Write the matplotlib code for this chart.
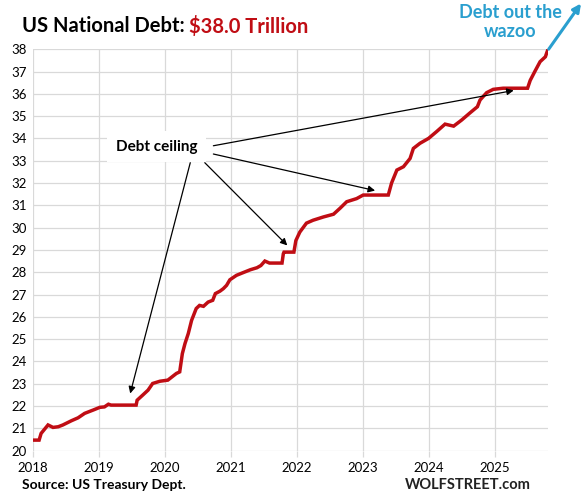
import numpy as np
import matplotlib
matplotlib.use("Agg")
import matplotlib.pyplot as plt

plt.rcParams['font.family'] = ['Lato', 'DejaVu Sans']

# US national debt, trillions of dollars
years = [2018.00, 2018.10, 2018.13, 2018.235, 2018.31, 2018.39, 2018.46, 2018.59, 2018.69,
         2018.79, 2018.92, 2019.02, 2019.09, 2019.15, 2019.19, 2019.57, 2019.585, 2019.67,
         2019.75, 2019.82, 2019.93, 2020.05, 2020.18, 2020.23, 2020.27, 2020.31, 2020.36,
         2020.41, 2020.48, 2020.53, 2020.59, 2020.66, 2020.73, 2020.77, 2020.84, 2020.89,
         2020.94, 2020.99, 2021.09, 2021.19, 2021.30, 2021.40, 2021.46, 2021.52, 2021.59,
         2021.78, 2021.80, 2021.81, 2021.96, 2021.99, 2022.05, 2022.15, 2022.25, 2022.41,
         2022.56, 2022.66, 2022.76, 2022.91, 2023.01, 2023.39, 2023.44, 2023.52, 2023.62,
         2023.72, 2023.77, 2023.87, 2024.00, 2024.12, 2024.25, 2024.38, 2024.50, 2024.63,
         2024.74, 2024.78, 2024.88, 2024.98, 2025.13, 2025.50, 2025.54, 2025.61, 2025.69,
         2025.77, 2025.81]
debt = [20.47, 20.47, 20.77, 21.15, 21.04, 21.07, 21.15, 21.34, 21.47,
        21.67, 21.82, 21.94, 21.96, 22.08, 22.04, 22.04, 22.26, 22.49,
        22.71, 23.01, 23.11, 23.16, 23.46, 23.53, 24.35, 24.80, 25.25,
        25.84, 26.37, 26.51, 26.47, 26.66, 26.74, 27.04, 27.15, 27.26,
        27.41, 27.66, 27.86, 27.98, 28.11, 28.20, 28.30, 28.50, 28.41,
        28.41, 28.83, 28.90, 28.90, 29.42, 29.80, 30.20, 30.33, 30.48,
        30.60, 30.87, 31.16, 31.30, 31.46, 31.46, 32.00, 32.58, 32.73,
        33.10, 33.55, 33.78, 34.00, 34.30, 34.64, 34.55, 34.82, 35.15,
        35.42, 35.72, 36.05, 36.20, 36.25, 36.25, 36.60, 37.00, 37.44,
        37.66, 38.00]

year_ticks = [2018, 2019, 2020, 2021, 2022, 2023, 2024, 2025]
value_ticks = list(range(20, 39))

# "Debt ceiling" arrows: (start, tip) in data units
ceiling_label = (2019.88, 33.62)
ceiling_arrows = [((2020.39, 32.91), (2019.48, 22.56)),
                  ((2020.61, 32.91), (2021.86, 29.20)),
                  ((2020.74, 33.30), (2023.19, 31.66)),
                  ((2020.74, 33.67), (2025.29, 36.15))]

red = '#c00d14'
blue = '#2a9fcf'

fig = plt.figure(figsize=(5.88, 5.0), dpi=100)
ax = fig.add_axes([0.0553, 0.0988, 0.8767, 0.8028])

ax.plot(years, debt, color=red, linewidth=2.5, solid_joinstyle='miter')

ax.set_xlim(2018, 2025.81)
ax.set_ylim(20, 38)
ax.set_xticks(year_ticks)
ax.set_yticks(value_ticks)
ax.grid(True, color='#d9d9d9', linewidth=0.9)
ax.set_axisbelow(True)
for s in ax.spines.values():
    s.set_visible(False)
ax.tick_params(axis='x', length=4, color='#d9d9d9', width=0.9, labelsize=9.5, pad=4)
ax.tick_params(axis='y', length=0, labelsize=9.5, pad=4)

# debt ceiling callout
ax.text(ceiling_label[0], ceiling_label[1], 'Debt ceiling', ha='center', va='center',
        fontsize=11, fontweight='bold', color='black',
        bbox=dict(facecolor='white', edgecolor='none', pad=6), zorder=3)
for start, tip in ceiling_arrows:
    ax.annotate('', xy=tip, xytext=start,
                arrowprops=dict(arrowstyle='-|>', color='black', lw=0.9,
                                mutation_scale=10, shrinkA=0, shrinkB=0), zorder=4)

# the blue arrow leaving the chart
ax.annotate('', xy=(2026.31, 40.05), xytext=(2025.82, 38.0), annotation_clip=False,
            arrowprops=dict(arrowstyle='-|>', color=blue, lw=2.2,
                            mutation_scale=12, shrinkA=0, shrinkB=0))
fig.text(0.868, 0.956, 'Debt out the\nwazoo', ha='center', va='center', color=blue,
         fontsize=13, fontweight='bold', linespacing=1.2)

# title
t1 = fig.text(0.037, 0.948, 'US National Debt: ', ha='left', va='center',
              fontsize=14.5, fontweight='bold', color='black')
fig.canvas.draw()
bb = t1.get_window_extent()
fig.text(bb.x1 / fig.bbox.width, 0.948, '$38.0 Trillion', ha='left', va='center',
         fontsize=14.5, fontweight='bold', color=red)

fig.text(0.037, 0.030, 'Source: US Treasury Dept.', ha='left', va='center',
         fontsize=10, fontweight='bold')
fig.text(0.902, 0.030, 'WOLFSTREET.com', ha='right', va='center',
         fontsize=10.5, fontweight='bold', color='#222222')

fig.savefig('out.png', dpi=100)
